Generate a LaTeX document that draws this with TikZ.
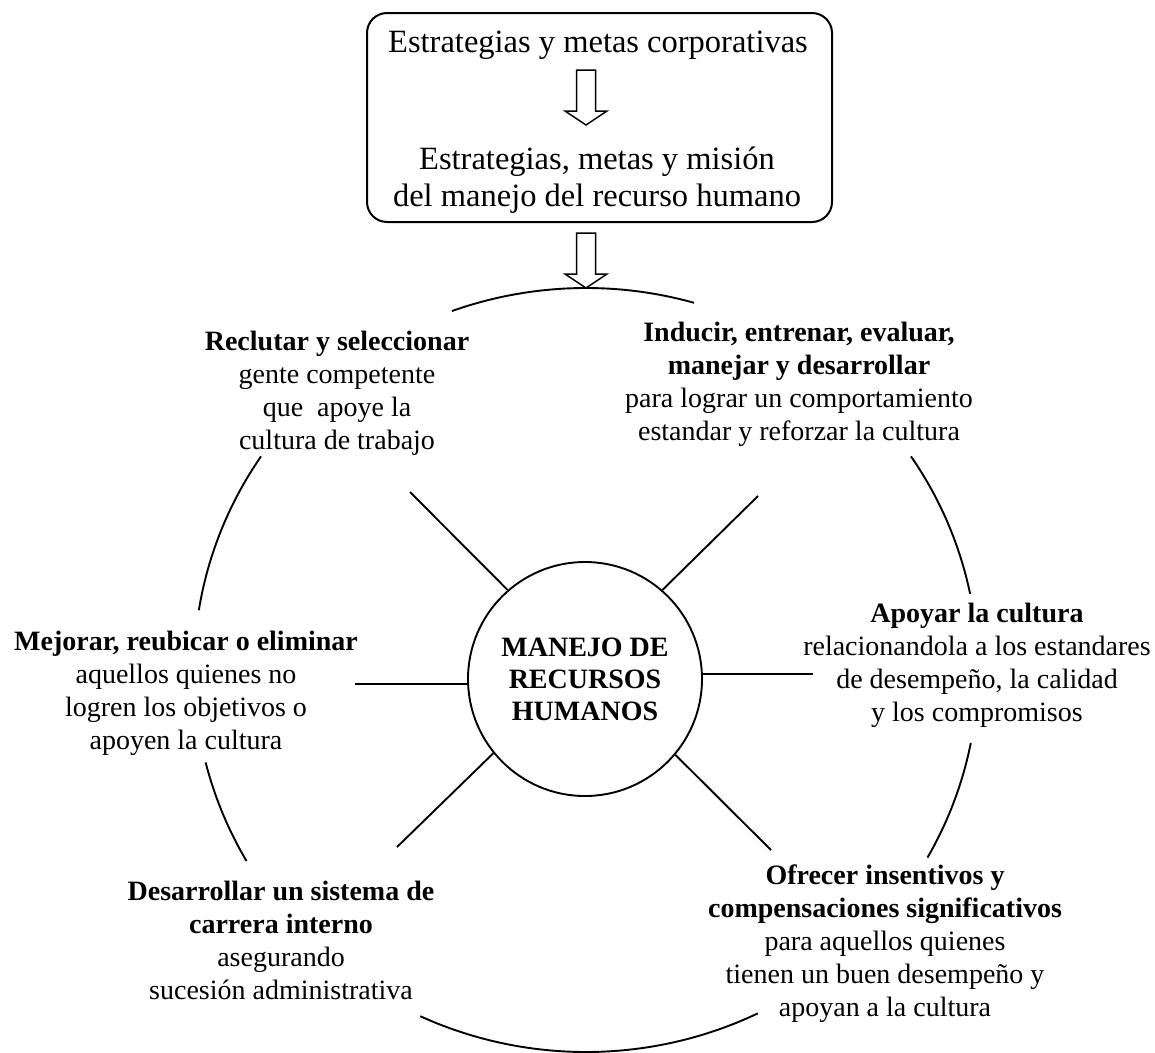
\documentclass[tikz,border=0pt]{standalone}
\usepackage{fontspec}
\setmainfont{Liberation Serif}
\begin{document}
\begin{tikzpicture}[x=1pt,y=-1pt,line width=1.9pt,
  body/.style={align=center,font=\fontsize{28}{33}\selectfont,inner sep=0pt},
  boxtxt/.style={align=center,font=\fontsize{32.5}{37}\selectfont,inner sep=0pt},
  hub/.style={draw,circle,minimum size=234pt,inner sep=0pt,align=center,line width=1.9pt,
    font=\fontsize{28}{32}\selectfont\bfseries},
  topbox/.style={draw,rounded corners=20pt,line width=2pt,minimum width=465pt,minimum height=209pt,inner sep=0pt},
  ring/.style={line width=1.9pt},
  spoke/.style={line width=1.9pt},
  pics/blockarrow/.style={code={\draw[line width=1.5pt,line join=miter]
    (-9.5,0) -- (9.5,0) -- (9.5,41) -- (21,41) -- (0,55) -- (-21,41) -- (-9.5,41) -- cycle;}}
]
\useasboundingbox (0,0) rectangle (1155,1052);

% top box
\node[topbox] (box) at (599.5,117.5) {};
\node[boxtxt] (t1) at (598,45) {Estrategias y metas corporativas};
\node[boxtxt] (t2) at (597,180) {Estrategias, metas y misión\\del manejo del recurso humano};
\coordinate (a1) at (586,70);
\coordinate (a2) at (586,233);
\pic at (a1) {blockarrow};
\pic at (a2) {blockarrow};

% hub
\node[hub] (c) at (585,679) {MANEJO DE\\RECURSOS\\HUMANOS};

% outer ring arcs
\coordinate (E) at (586,670);
\foreach \s/\e in {74/110,146/171,194/210,245/296,330.6/349,11.5/34}{
  \draw[ring] ([shift={(\s:392pt and 382pt)}]E) arc[start angle=\s,end angle=\e,x radius=392pt,y radius=382pt];
}

% spokes
\coordinate (ul) at (410,492);
\coordinate (ur) at (758,496);
\coordinate (l) at (355,684);
\coordinate (r) at (813,674);
\coordinate (ll) at (397,847);
\coordinate (lr) at (771,850);
\draw[spoke] (c.131) -- (ul);
\draw[spoke] (c.49) -- (ur);
\draw[spoke] (c.west |- l) -- (l);
\draw[spoke] (c.east |- r) -- (r);
\draw[spoke] (c.219) -- (ll);
\draw[spoke] (c.320) -- (lr);

% labels
\node[body] (rec) at (337,393) {\textbf{Reclutar y seleccionar}\\gente competente\\que \ apoye la\\cultura de trabajo};
\node[body] (ind) at (799,384) {\textbf{Inducir, entrenar, evaluar,}\\\textbf{manejar y desarrollar}\\para lograr un comportamiento\\estandar y reforzar la cultura};
\node[body] (mej) at (186,693) {\textbf{Mejorar, reubicar o eliminar}\\aquellos quienes no\\logren los objetivos o\\apoyen la cultura};
\node[body] (apo) at (977,665) {\textbf{Apoyar la cultura}\\relacionandola a los estandares\\de desempeño, la calidad\\y los compromisos};
\node[body] (des) at (281,940) {\textbf{Desarrollar un sistema de}\\\textbf{carrera interno}\\asegurando\\sucesión administrativa};
\node[body] (ofr) at (885,944) {\textbf{Ofrecer insentivos y}\\\textbf{compensaciones significativos}\\para aquellos quienes\\tienen un buen desempeño y\\apoyan a la cultura};
\end{tikzpicture}
\end{document}
